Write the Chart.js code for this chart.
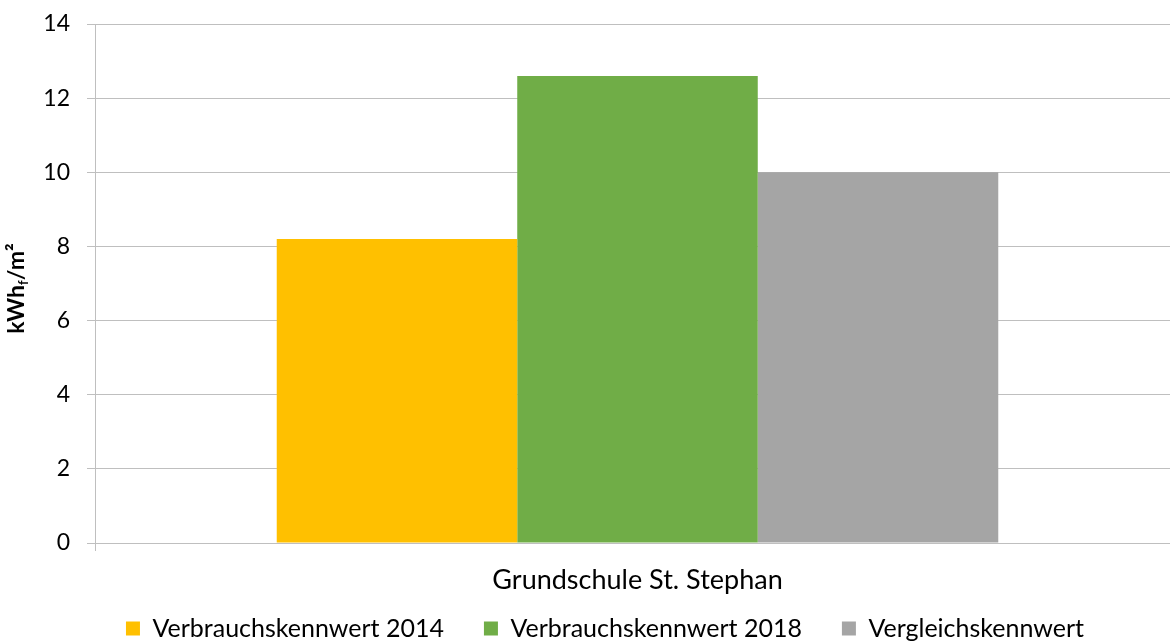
<!DOCTYPE html>
<html>
<head>
<meta charset="utf-8">
<script src="https://cdn.jsdelivr.net/npm/chart.js@4.4.0/dist/chart.umd.min.js"></script>
<style>
  html, body { margin: 0; padding: 0; background: #fff; overflow: hidden; }
  #wrap { width: 1180px; height: 641px; position: relative; }
</style>
</head>
<body>
<div id="wrap"><canvas id="chart"></canvas></div>
<script>
// === Daten ===
const categories = ['Grundschule St. Stephan'];
const seriesNames = ['Verbrauchskennwert 2014', 'Verbrauchskennwert 2018', 'Vergleichskennwert'];
const values2014 = [8.2];
const values2018 = [12.6];
const valuesVergleich = [10.0];
const yTicks = [0, 2, 4, 6, 8, 10, 12, 14];
const colors = ['#ffc000', '#70ad47', '#a5a5a5'];

const FONT = 'Lato, "Open Sans", sans-serif';

// y-Achsentitel mit tiefgestelltem f
const yTitlePlugin = {
  id: 'yTitle',
  afterLayout(chart) {
    // Platz fuer die Kategoriebeschriftung nicht abschneiden
    chart.scales.x.bottom = chart.height;
  },
  afterDraw(chart) {
    const { ctx, chartArea } = chart;
    const cy = (chartArea.top + chartArea.bottom) / 2 + 5;
    ctx.save();
    ctx.translate(17, cy);
    ctx.rotate(-Math.PI / 2);
    ctx.fillStyle = '#000';
    ctx.textBaseline = 'middle';
    const big = 'bold 23px ' + FONT;
    const small = 'bold 13px ' + FONT;
    ctx.font = big;
    const w1 = ctx.measureText('kWh').width;
    const w3 = ctx.measureText('/m²').width;
    ctx.font = small;
    const w2 = ctx.measureText('f').width;
    let x = -(w1 + w2 + w3) / 2;
    ctx.font = big;
    ctx.fillText('kWh', x, 0);
    x += w1;
    ctx.font = small;
    ctx.fillText('f', x, 7);
    x += w2;
    ctx.font = big;
    ctx.fillText('/m²', x, 0);
    ctx.restore();
  }
};

new Chart(document.getElementById('chart'), {
  type: 'bar',
  data: {
    labels: categories,
    datasets: [
      { label: seriesNames[0], data: values2014, backgroundColor: colors[0] },
      { label: seriesNames[1], data: values2018, backgroundColor: colors[1] },
      { label: seriesNames[2], data: valuesVergleich, backgroundColor: colors[2] }
    ]
  },
  options: {
    responsive: true,
    maintainAspectRatio: false,
    animation: false,
    layout: { padding: { left: 30, top: 24, right: 0, bottom: -10 } },
    datasets: { bar: { barPercentage: 1.0, categoryPercentage: 0.665 } },
    plugins: {
      tooltip: { enabled: false },
      legend: {
        position: 'bottom',
        labels: {
          font: { family: FONT, size: 25 },
          color: '#000',
          boxWidth: 14,
          boxHeight: 14,
          padding: 40
        }
      }
    },
    scales: {
      x: {
        offset: true,
        afterFit(s) { s.height = 33; },
        grid: { display: true, drawOnChartArea: false, offset: true, color: '#bfbfbf', tickLength: 8 },
        border: { color: '#bfbfbf' },
        ticks: { font: { family: FONT, size: 27 }, color: '#000', padding: 13 }
      },
      y: {
        min: 0,
        max: 14,
        afterFit(s) { s.width = 65; s.paddingTop = 0; s.paddingBottom = 0; },
        afterBuildTicks(s) { s.ticks = yTicks.map(v => ({ value: v })); },
        grid: { color: '#bfbfbf', tickLength: 8 },
        border: { color: '#bfbfbf' },
        ticks: { font: { family: FONT, size: 23 }, color: '#000', padding: 17 }
      }
    }
  },
  plugins: [yTitlePlugin]
});
</script>
</body>
</html>
